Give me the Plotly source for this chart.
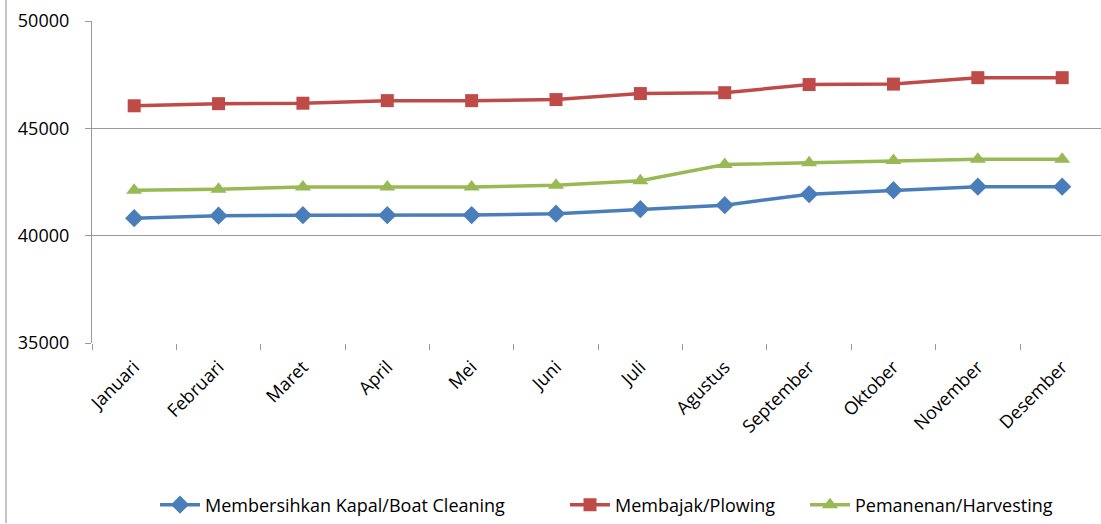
import plotly.graph_objects as go

months = ["Januari", "Februari", "Maret", "April", "Mei", "Juni", "Juli",
          "Agustus", "September", "Oktober", "November", "Desember"]
boat_cleaning = [40815, 40930, 40955, 40955, 40960, 41025, 41235, 41420, 41930, 42120, 42280, 42280]
plowing = [46050, 46150, 46170, 46290, 46290, 46340, 46620, 46660, 47040, 47060, 47360, 47360]
harvesting = [42120, 42160, 42270, 42270, 42270, 42350, 42560, 43310, 43400, 43500, 43560, 43560]

series_names = ["Membersihkan Kapal/Boat Cleaning", "Membajak/Plowing", "Pemanenan/Harvesting"]
colors = ["#4a7ebb", "#be4b48", "#98b954"]
symbols = ["diamond", "square", "triangle-up"]
legend_ids = ["legend", "legend2", "legend3"]
legend_px = [155, 565, 805]
y_ticks = [35000, 40000, 45000, 50000]

FONT = "Open Sans"
L, PW = 92, 1009

fig = go.Figure()
for name, vals, c, s, lg in zip(series_names, [boat_cleaning, plowing, harvesting], colors, symbols, legend_ids):
    fig.add_trace(go.Scatter(
        x=months, y=vals, name=name, mode="lines+markers",
        line=dict(color=c, width=3.5),
        marker=dict(symbol=s, size=14 if s != "square" else 13, color=c),
        legend=lg,
    ))

legend_common = dict(orientation="h", xanchor="left", y=-0.503, yanchor="middle",
                     font=dict(family=FONT, size=18), itemwidth=40, bgcolor="rgba(0,0,0,0)")
fig.update_layout(
    width=1101, height=524,
    margin=dict(l=L, r=0, t=21, b=179),
    paper_bgcolor="white", plot_bgcolor="white",
    font=dict(family=FONT, size=18, color="#000000"),
    showlegend=True,
    legend=dict(x=(legend_px[0] - L) / PW, **legend_common),
    legend2=dict(x=(legend_px[1] - L) / PW, **legend_common),
    legend3=dict(x=(legend_px[2] - L) / PW, **legend_common),
    shapes=[dict(type="line", xref="paper", yref="paper",
                 x0=(6 - L) / PW, x1=(6 - L) / PW, y0=-0.56, y1=1.07,
                 line=dict(color="#a0a0a0", width=1.2))],
)
fig.update_xaxes(
    type="category", range=[-0.5, 11.46],
    tickangle=-45, tickson="boundaries", ticks="outside", ticklen=6,
    tickcolor="#999999", showline=False, showgrid=False, zeroline=False,
    tickfont=dict(family=FONT, size=18), ticklabelstandoff=9,
)
fig.update_yaxes(
    range=[35000, 50000], tickvals=y_ticks, ticktext=[str(v) for v in y_ticks],
    showgrid=True, gridcolor="#999999", gridwidth=1.2,
    showline=True, linecolor="#999999", linewidth=1.2,
    ticks="outside", ticklen=6, tickcolor="#999999",
    zeroline=False, tickfont=dict(family=FONT, size=18), ticklabelstandoff=12,
)

fig.write_html("out.html", config={"displayModeBar": False},
               post_script="document.body.style.margin='0px';")
